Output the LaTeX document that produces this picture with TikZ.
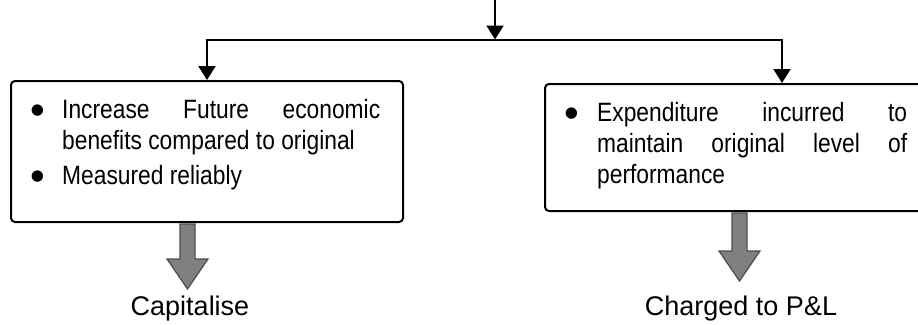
\documentclass[tikz,border=0pt]{standalone}
\usepackage{fontspec}
\setmainfont{Liberation Sans}
\newfontfamily\narrowfont{Liberation Sans}[FakeStretch=0.86]
\usetikzlibrary{arrows.meta,calc}
\newcommand{\bigbul}{\raisebox{-6pt}[0pt][0pt]{\rmfamily\fontsize{42pt}{42pt}\selectfont\textbullet}}
\begin{document}
\begin{tikzpicture}[x=1pt,y=-1pt,
  box/.style={draw, line width=2pt, rounded corners=4pt, inner sep=0pt},
  conn/.style={line width=2pt, -{Triangle[width=17pt,length=14pt]}},
  barrow/.style={fill=black!50, draw=black!70, line width=1.2pt, line join=miter},
  lbl/.style={font=\fontsize{27pt}{31pt}\selectfont, inner sep=0pt, anchor=base},
  txt/.style={inner sep=0pt, anchor=base west, font=\narrowfont\fontsize{26.5pt}{31pt}\selectfont}]
\useasboundingbox (0,0) rectangle (918,324);
\clip (0,0) rectangle (918,324);

% boxes
\node[box, minimum width=392pt, minimum height=141pt, anchor=north west] (L) at (10,80) {};
\node[box, minimum width=400pt, minimum height=127pt, anchor=north west] (R) at (544,83) {};

% box texts
\node[txt] (Ltxt) at (30.5,118) {\begin{minipage}[t]{349.5pt}\tolerance=10000 \hbadness=10000 \hyphenpenalty=10000
\hangindent=31.5pt \hangafter=1 \noindent\makebox[31.5pt][l]{\bigbul}Increase Future economic\linebreak benefits compared to original\par
\vspace{4pt}
\hangindent=31.5pt \hangafter=1 \noindent\makebox[31.5pt][l]{\bigbul}Measured reliably\par
\end{minipage}};
\node[txt] (Rtxt) at (564.5,121) {\begin{minipage}[t]{342.5pt}\tolerance=10000 \hbadness=10000 \hyphenpenalty=10000
\hangindent=32.5pt \hangafter=1 \noindent\makebox[32.5pt][l]{\bigbul}Expenditure incurred to\linebreak maintain original level of\linebreak performance\par
\end{minipage}};

% labels
\node[lbl] (cap) at (190,315) {Capitalise};
\node[lbl] (chg) at (741,315) {Charged to P\&L};

% connectors
\coordinate (src) at (495,0);
\coordinate (hub) at (495,39.5);
\coordinate (Rin) at (782,83);
\draw[conn] (src) -- (hub);
\draw[conn] (hub) -| (L.north);
\draw[conn] (hub) -| (Rin);

% block arrows
\filldraw[barrow] ($(L.south west)+(170,1)$) -- ++(0,35) -- ++(-13,0) -- ++(20.5,30) -- ++(20.5,-30) -- ++(-13,0) -- ++(0,-35) -- cycle;
\filldraw[barrow] ($(R.south west)+(188,1)$) -- ++(0,38) -- ++(-13,0) -- ++(20.5,30) -- ++(20.5,-30) -- ++(-13,0) -- ++(0,-38) -- cycle;
\end{tikzpicture}
\end{document}
